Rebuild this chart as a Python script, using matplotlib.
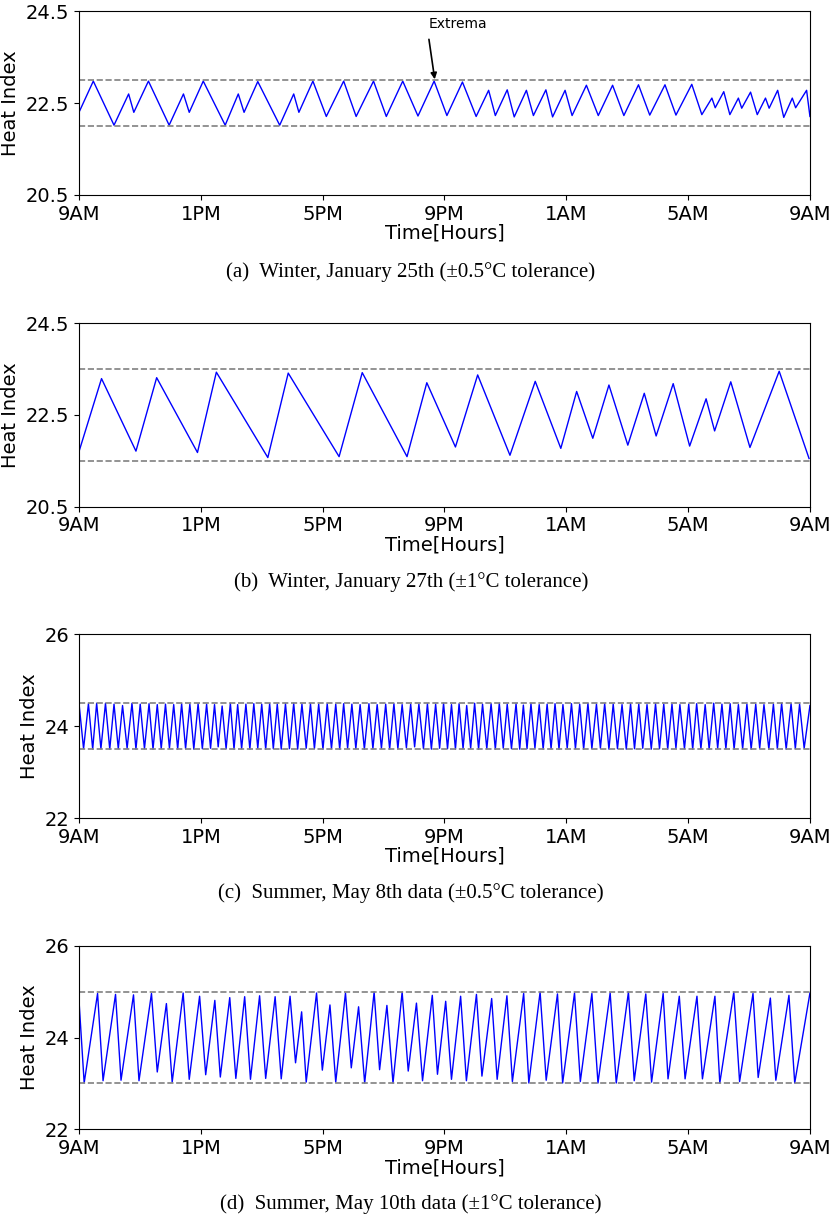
import matplotlib
matplotlib.use("Agg")
import matplotlib.pyplot as plt
import numpy as np

# time axis: hours after 9AM
hour_ticks = [0, 4, 8, 12, 16, 20, 24]
hour_labels = ['9AM', '1PM', '5PM', '9PM', '1AM', '5AM', '9AM']

# (a) winter, Jan 25th, extrema
a_t = [0.00, 0.47, 1.15, 1.63, 1.80, 2.28, 2.96, 3.43, 3.62, 4.08,
       4.80, 5.23, 5.42, 5.87, 6.59, 7.05, 7.22, 7.68, 8.12, 8.69,
       9.10, 9.67, 10.09, 10.63, 11.13, 11.66, 12.08, 12.59, 13.04, 13.45,
       13.67, 14.06, 14.29, 14.69, 14.92, 15.33, 15.55, 15.96, 16.19, 16.66,
       17.05, 17.52, 17.89, 18.37, 18.74, 19.24, 19.60, 20.12, 20.45, 20.78,
       20.89, 21.17, 21.37, 21.65, 21.76, 22.05, 22.27, 22.54, 22.66, 22.94,
       23.14, 23.42, 23.53, 23.89, 24.00]
a_v = [22.30, 22.98, 22.02, 22.70, 22.30, 22.98, 22.02, 22.70, 22.30, 22.98,
       22.02, 22.70, 22.30, 22.97, 22.02, 22.70, 22.30, 22.98, 22.21, 22.98,
       22.21, 22.98, 22.21, 22.98, 22.22, 22.98, 22.23, 22.96, 22.21, 22.78,
       22.23, 22.79, 22.20, 22.78, 22.23, 22.79, 22.20, 22.78, 22.23, 22.89,
       22.23, 22.89, 22.23, 22.90, 22.24, 22.90, 22.24, 22.91, 22.25, 22.61,
       22.40, 22.75, 22.25, 22.61, 22.39, 22.74, 22.25, 22.61, 22.39, 22.78,
       22.19, 22.61, 22.40, 22.78, 22.21]
a_bounds = [23.0, 22.0]

# (b) winter, Jan 27th
b_t = [0.00, 0.74, 1.87, 2.55, 3.89, 4.51, 6.20, 6.87, 8.54, 9.30,
       10.77, 11.42, 12.36, 13.09, 14.15, 14.98, 15.82, 16.34, 16.87, 17.40,
       18.02, 18.56, 18.95, 19.51, 20.05, 20.59, 20.87, 21.40, 22.03, 22.99,
       23.97]
b_v = [21.70, 23.29, 21.71, 23.31, 21.68, 23.43, 21.57, 23.41, 21.59, 23.42,
       21.59, 23.20, 21.80, 23.37, 21.62, 23.23, 21.77, 23.01, 21.99, 23.15,
       21.84, 22.97, 22.04, 23.18, 21.82, 22.85, 22.15, 23.22, 21.79, 23.45,
       21.55]
b_bounds = [23.5, 21.5]

# (c) summer, May 8th: peaks and troughs
c_peak_t = [0.00, 0.31, 0.58, 0.87, 1.15, 1.43, 1.74, 2.01, 2.30, 2.57,
            2.84, 3.11, 3.37, 3.64, 3.91, 4.19, 4.45, 4.70, 4.97, 5.21,
            5.48, 5.74, 6.00, 6.26, 6.51, 6.78, 7.05, 7.32, 7.60, 7.87,
            8.15, 8.43, 8.69, 8.96, 9.23, 9.52, 9.79, 10.07, 10.34, 10.61,
            10.89, 11.16, 11.44, 11.71, 11.97, 12.23, 12.48, 12.73, 12.99, 13.25,
            13.53, 13.80, 14.06, 14.35, 14.59, 14.84, 15.11, 15.37, 15.63, 15.89,
            16.17, 16.44, 16.71, 16.99, 17.26, 17.54, 17.83, 18.11, 18.38, 18.65,
            18.93, 19.20, 19.47, 19.73, 20.02, 20.28, 20.56, 20.84, 21.11, 21.38,
            21.65, 21.93, 22.22, 22.49, 22.80, 23.07, 23.38, 23.66, 24.00]
c_peak_v = [24.50, 24.49, 24.50, 24.50, 24.48, 24.45, 24.50, 24.48, 24.49, 24.47,
            24.48, 24.47, 24.49, 24.48, 24.49, 24.48, 24.47, 24.44, 24.50, 24.47,
            24.48, 24.49, 24.48, 24.49, 24.48, 24.49, 24.50, 24.48, 24.49, 24.48,
            24.49, 24.48, 24.49, 24.48, 24.47, 24.49, 24.47, 24.48, 24.49, 24.47,
            24.48, 24.48, 24.49, 24.48, 24.50, 24.47, 24.49, 24.45, 24.50, 24.48,
            24.49, 24.50, 24.48, 24.49, 24.46, 24.49, 24.47, 24.48, 24.49, 24.47,
            24.49, 24.48, 24.50, 24.48, 24.49, 24.48, 24.47, 24.49, 24.48, 24.47,
            24.49, 24.48, 24.48, 24.47, 24.48, 24.49, 24.47, 24.50, 24.48, 24.49,
            24.47, 24.48, 24.48, 24.47, 24.48, 24.50, 24.49, 24.48, 24.45]
c_trough_t = [0.15, 0.45, 0.72, 1.01, 1.29, 1.58, 1.87, 2.15, 2.43, 2.70,
              2.97, 3.24, 3.50, 3.77, 4.05, 4.32, 4.57, 4.83, 5.09, 5.34,
              5.61, 5.87, 6.13, 6.38, 6.64, 6.91, 7.18, 7.46, 7.73, 8.01,
              8.29, 8.56, 8.82, 9.09, 9.37, 9.65, 9.93, 10.20, 10.47, 10.75,
              11.02, 11.31, 11.57, 11.84, 12.10, 12.36, 12.61, 12.86, 13.12, 13.39,
              13.67, 13.93, 14.20, 14.47, 14.71, 14.97, 15.24, 15.50, 15.76, 16.03,
              16.30, 16.57, 16.84, 17.12, 17.40, 17.68, 17.97, 18.24, 18.51, 18.79,
              19.06, 19.33, 19.60, 19.88, 20.15, 20.42, 20.69, 20.97, 21.24, 21.51,
              21.79, 22.07, 22.35, 22.65, 22.93, 23.22, 23.52, 23.81]
c_trough_v = [23.51, 23.50, 23.51, 23.50, 23.51, 23.52, 23.50, 23.51, 23.50, 23.51,
              23.52, 23.50, 23.51, 23.50, 23.51, 23.52, 23.55, 23.51, 23.50, 23.51,
              23.50, 23.52, 23.50, 23.51, 23.50, 23.51, 23.50, 23.52, 23.51, 23.50,
              23.51, 23.50, 23.52, 23.51, 23.50, 23.51, 23.52, 23.50, 23.51, 23.53,
              23.55, 23.51, 23.50, 23.52, 23.51, 23.50, 23.51, 23.52, 23.50, 23.51,
              23.50, 23.52, 23.51, 23.50, 23.51, 23.52, 23.50, 23.51, 23.50, 23.52,
              23.51, 23.50, 23.51, 23.52, 23.50, 23.51, 23.50, 23.51, 23.52, 23.50,
              23.51, 23.50, 23.52, 23.51, 23.50, 23.51, 23.50, 23.52, 23.51, 23.50,
              23.51, 23.50, 23.52, 23.50, 23.51, 23.50, 23.51, 23.52]
c_bounds = [24.5, 23.5]

# (d) summer, May 10th
d_t = [0.00, 0.17, 0.61, 0.79, 1.20, 1.38, 1.79, 1.97, 2.38, 2.57,
       2.87, 3.06, 3.42, 3.62, 3.96, 4.16, 4.46, 4.64, 4.95, 5.15,
       5.44, 5.63, 5.93, 6.13, 6.44, 6.64, 6.93, 7.11, 7.31, 7.46,
       7.80, 7.99, 8.24, 8.43, 8.75, 8.94, 9.18, 9.38, 9.69, 9.87,
       10.11, 10.31, 10.61, 10.81, 11.08, 11.28, 11.60, 11.77, 12.04, 12.23,
       12.53, 12.72, 13.05, 13.23, 13.55, 13.73, 14.05, 14.23, 14.60, 14.77,
       15.14, 15.34, 15.71, 15.88, 16.27, 16.46, 16.84, 17.04, 17.44, 17.64,
       18.04, 18.23, 18.61, 18.80, 19.18, 19.34, 19.71, 19.90, 20.29, 20.47,
       20.88, 21.04, 21.50, 21.69, 22.13, 22.30, 22.70, 22.88, 23.31, 23.50,
       24.00]
d_v = [24.81, 23.01, 24.96, 23.06, 24.94, 23.07, 24.93, 23.06, 24.96, 23.25,
       24.74, 23.03, 24.97, 23.09, 24.90, 23.19, 24.81, 23.14, 24.87, 23.11,
       24.89, 23.09, 24.91, 23.11, 24.89, 23.10, 24.90, 23.45, 24.56, 23.03,
       24.97, 23.29, 24.71, 23.03, 24.97, 23.34, 24.67, 23.01, 24.99, 23.30,
       24.70, 23.01, 24.99, 23.27, 24.75, 23.06, 24.92, 23.20, 24.79, 23.09,
       24.90, 23.06, 24.94, 23.16, 24.85, 23.09, 24.91, 23.04, 24.96, 23.01,
       24.99, 23.07, 24.95, 23.01, 24.97, 23.04, 24.96, 23.01, 24.97, 23.01,
       24.99, 23.06, 24.95, 23.03, 24.96, 23.10, 24.90, 23.10, 24.90, 23.10,
       24.90, 23.01, 24.99, 23.04, 24.96, 23.13, 24.86, 23.07, 24.92, 23.01,
       24.97]
d_bounds = [25.0, 23.0]

captions = ['(a)  Winter, January 25th (\u00b10.5\u00b0C tolerance)',
            '(b)  Winter, January 27th (\u00b11\u00b0C tolerance)',
            '(c)  Summer, May 8th data (\u00b10.5\u00b0C tolerance)',
            '(d)  Summer, May 10th data (\u00b11\u00b0C tolerance)']

# merge peaks/troughs of (c) into one series
c_t = np.concatenate([c_peak_t, c_trough_t])
c_v = np.concatenate([c_peak_v, c_trough_v])
order = np.argsort(c_t)
c_t, c_v = c_t[order], c_v[order]

series = [(a_t, a_v, a_bounds, [20.5, 24.5], [24.5, 22.5, 20.5], ['24.5', '22.5', '20.5']),
          (b_t, b_v, b_bounds, [20.5, 24.5], [24.5, 22.5, 20.5], ['24.5', '22.5', '20.5']),
          (c_t, c_v, c_bounds, [22, 26], [26, 24, 22], ['26', '24', '22']),
          (d_t, d_v, d_bounds, [22, 26], [26, 24, 22], ['26', '24', '22'])]

fig = plt.figure(figsize=(8.35, 12.2), dpi=100)
bottoms = [0.8402, 0.5847, 0.3295, 0.0743]
cap_y = [0.777, 0.523, 0.268, 0.013]

axes = []
for i, (t, v, bnd, ylim, yt, ytl) in enumerate(series):
    ax = fig.add_axes([0.0946, bottoms[i], 0.8754, 0.1505])
    ax.plot(t, v, color='blue', linewidth=1.0)
    for b in bnd:
        ax.axhline(b, color='gray', linestyle='--', linewidth=1.2)
    ax.set_xlim(0, 24)
    ax.set_ylim(ylim)
    ax.set_xticks(hour_ticks)
    ax.set_xticklabels(hour_labels, fontsize=14)
    ax.set_yticks(yt)
    ax.set_yticklabels(ytl, fontsize=14)
    ax.set_ylabel('Heat Index', fontsize=14)
    ax.set_xlabel('Time[Hours]', fontsize=14, labelpad=0)
    fig.text(0.492, cap_y[i], captions[i], ha='center', va='center',
             fontsize=15, family='Liberation Serif')
    axes.append(ax)

axes[0].text(11.49, 24.22, 'Extrema', fontsize=10, ha='left', va='center')
axes[0].annotate('', xy=(11.68, 23.02), xytext=(11.49, 23.89),
                 arrowprops=dict(arrowstyle='-|>', color='black', lw=1.2,
                                 mutation_scale=9, shrinkA=0, shrinkB=0))

fig.savefig('out.png', dpi=100)
